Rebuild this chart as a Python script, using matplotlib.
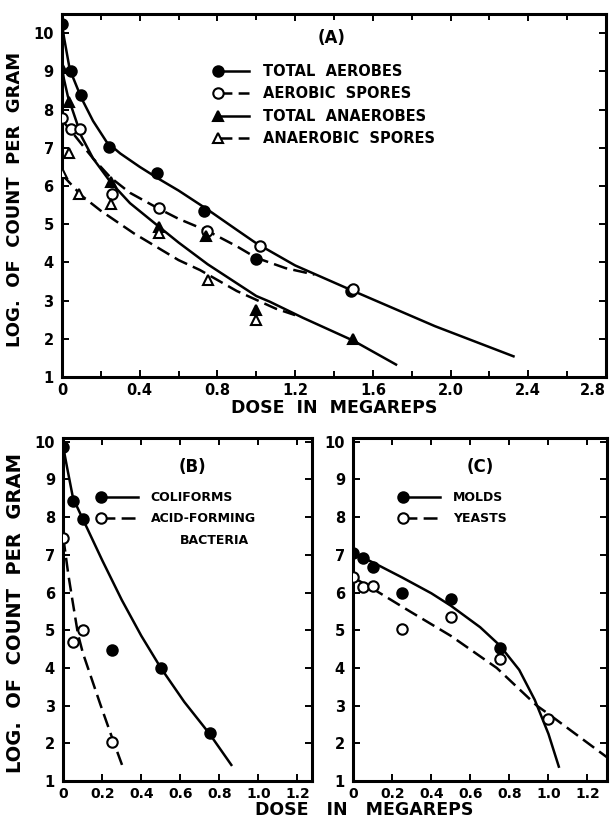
import numpy as np
import matplotlib
matplotlib.use("Agg")
import matplotlib.pyplot as plt
from matplotlib.lines import Line2D
from matplotlib.legend_handler import HandlerLine2D
from matplotlib.ticker import FixedLocator, FixedFormatter, MultipleLocator

plt.rcParams['font.family'] = ['DejaVu Sans']
plt.rcParams['font.weight'] = 'bold'
plt.rcParams['lines.scale_dashes'] = False

# ---- panel A : measured points ----
aer_dose = [0, 0.045, 0.1, 0.24, 0.49, 0.73, 1.0, 1.49]
aer_log = [10.25, 9.0, 8.38, 7.02, 6.35, 5.35, 4.08, 3.25]
aspo_dose = [0, 0.045, 0.093, 0.255, 0.5, 0.745, 1.02, 1.5]
aspo_log = [7.77, 7.5, 7.5, 5.8, 5.43, 4.82, 4.43, 3.3]
ana_dose = [0, 0.035, 0.25, 0.5, 0.74, 1.0, 1.5]
ana_log = [9.08, 8.2, 6.1, 4.93, 4.68, 2.75, 2.0]
nspo_dose = [0, 0.035, 0.09, 0.25, 0.5, 0.75, 1.0]
nspo_log = [6.33, 6.85, 5.8, 5.52, 4.78, 3.53, 2.5]

# ---- panel A : drawn curves ----
aer_cx = [0, 0.01, 0.04, 0.1, 0.16, 0.23, 0.3, 0.4, 0.5, 0.6, 0.75, 0.9, 1.0, 1.2, 1.5, 1.92, 2.33]
aer_cy = [10.25, 9.9, 9.05, 8.3, 7.7, 7.15, 6.85, 6.5, 6.18, 5.88, 5.38, 4.85, 4.5, 3.92, 3.25, 2.33, 1.53]
aspo_cx = [0, 0.02, 0.05, 0.1, 0.16, 0.25, 0.35, 0.5, 0.6, 0.75, 0.9, 1.0, 1.15, 1.3]
aspo_cy = [7.75, 7.6, 7.42, 7.1, 6.72, 6.22, 5.82, 5.4, 5.14, 4.82, 4.42, 4.12, 3.85, 3.68]
ana_cx = [0, 0.01, 0.03, 0.06, 0.1, 0.16, 0.25, 0.35, 0.5, 0.6, 0.75, 1.0, 1.07, 1.24, 1.5, 1.725]
ana_cy = [9.1, 8.8, 8.35, 7.9, 7.3, 6.72, 6.1, 5.55, 4.93, 4.52, 3.95, 3.12, 2.97, 2.55, 1.95, 1.31]
nspo_cx = [0, 0.1, 0.2, 0.37, 0.6, 0.71, 0.9, 1.1, 1.2]
nspo_cy = [6.3, 5.75, 5.35, 4.76, 4.06, 3.8, 3.25, 2.79, 2.62]

# ---- panel B ----
coli_dose = [0, 0.05, 0.1, 0.25, 0.5, 0.75]
coli_log = [9.85, 8.42, 7.95, 4.48, 4.0, 2.27]
acid_dose = [0, 0.05, 0.1, 0.25]
acid_log = [7.45, 4.7, 5.0, 2.03]
coli_cx = [0, 0.02, 0.05, 0.1, 0.2, 0.3, 0.4, 0.5, 0.62, 0.75, 0.865]
coli_cy = [9.85, 9.3, 8.5, 7.95, 6.85, 5.8, 4.85, 4.0, 3.1, 2.25, 1.4]
acid_cx = [0, 0.012, 0.025, 0.045, 0.075, 0.1, 0.19, 0.25, 0.31]
acid_cy = [7.45, 7.0, 6.5, 5.85, 4.9, 4.4, 3.03, 2.15, 1.3]

# ---- panel C ----
mold_dose = [0, 0.05, 0.1, 0.25, 0.5, 0.75]
mold_log = [7.05, 6.92, 6.68, 5.98, 5.84, 4.52]
yeast_dose = [0, 0.05, 0.1, 0.25, 0.5, 0.75, 1.0]
yeast_log = [6.4, 6.14, 6.18, 5.02, 5.36, 4.24, 2.65]
mold_cx = [0, 0.1, 0.25, 0.4, 0.5, 0.65, 0.75, 0.85, 0.93, 1.0, 1.055]
mold_cy = [7.05, 6.8, 6.4, 5.98, 5.65, 5.08, 4.6, 3.95, 3.15, 2.25, 1.35]
yeast_cx = [0, 0.1, 0.29, 0.5, 0.735, 0.94, 1.0, 1.3]
yeast_cy = [6.4, 6.1, 5.5, 4.85, 4.0, 3.0, 2.78, 1.63]

a_ticks = [0, 0.4, 0.8, 1.2, 1.6, 2.0, 2.4, 2.8]
a_ticklabels = ['0', '0.4', '0.8', '1.2', '1.6', '2.0', '2.4', '2.8']
bc_ticks = [0, 0.2, 0.4, 0.6, 0.8, 1.0, 1.2]
bc_ticklabels = ['0', '0.2', '0.4', '0.6', '0.8', '1.0', '1.2']
y_ticks = [1, 2, 3, 4, 5, 6, 7, 8, 9, 10]

LW = 1.8
DASH = (0, (10, 4.5))
MS = 7.5


class LeftMarker(HandlerLine2D):
    # marker only at the left end of the legend line
    def create_artists(self, *args, **kwargs):
        arts = super().create_artists(*args, **kwargs)
        for a in arts:
            a.set_markevery([0])
        return arts


fig = plt.figure(figsize=(6.1, 8.23), dpi=100)
axA = fig.add_axes([0.1016, 0.5419, 0.8918, 0.4411])
axB = fig.add_axes([0.1038, 0.0510, 0.4077, 0.4168])
axC = fig.add_axes([0.5792, 0.0510, 0.4159, 0.4168])


def style(ax, xlim, ylim, xt, xtl, xsize):
    ax.set_xlim(*xlim)
    ax.set_ylim(*ylim)
    ax.xaxis.set_major_locator(FixedLocator(xt))
    ax.xaxis.set_major_formatter(FixedFormatter(xtl))
    ax.set_yticks(y_ticks)
    ax.set_yticklabels([str(v) for v in y_ticks])
    for s in ax.spines.values():
        s.set_linewidth(2.2)
    ax.tick_params(which='both', direction='in', top=True, right=True, width=1.4)
    ax.tick_params(which='major', length=5, pad=4)
    ax.tick_params(which='minor', length=4)
    ax.tick_params(axis='x', labelsize=xsize)
    ax.tick_params(axis='y', labelsize=10.5, pad=6)


def curve(ax, x, y, dashed=False):
    ax.plot(x, y, color='k', lw=LW, linestyle=DASH if dashed else '-',
            zorder=2, solid_capstyle='butt')


def pts(ax, x, y, marker, filled):
    ax.plot(x, y, linestyle='none', marker=marker, ms=MS,
            mfc='k' if filled else 'white', mec='k', mew=1.5, zorder=3)


def handle(marker, filled, dashed):
    return Line2D([], [], color='k', lw=LW, linestyle=DASH if dashed else '-',
                  marker=marker, ms=MS, mfc='k' if filled else 'white',
                  mec='k', mew=1.5)


def legend(ax, handles, labels, anchor, size, hl, spacing):
    ax.legend(handles, labels, loc='upper left', bbox_to_anchor=anchor,
              frameon=False, handler_map={Line2D: LeftMarker(numpoints=2)},
              handlelength=hl, handletextpad=0.7, labelspacing=spacing,
              borderpad=0, borderaxespad=0, prop={'size': size, 'weight': 'bold'})


# ---------------- A ----------------
style(axA, (0, 2.8), (1, 10.5), a_ticks, a_ticklabels, 10.5)
axA.xaxis.set_minor_locator(MultipleLocator(0.2))
axA.get_xticklabels()[-1].set_horizontalalignment('right')
curve(axA, aer_cx, aer_cy)
curve(axA, aspo_cx, aspo_cy, dashed=True)
curve(axA, ana_cx, ana_cy)
curve(axA, nspo_cx, nspo_cy, dashed=True)
pts(axA, aer_dose, aer_log, 'o', True)
pts(axA, aspo_dose, aspo_log, 'o', False)
pts(axA, ana_dose, ana_log, '^', True)
pts(axA, nspo_dose, nspo_log, '^', False)
axA.text(0.496, 0.935, '(A)', transform=axA.transAxes, ha='center', va='center',
         fontsize=12, fontweight='bold')
legend(axA, [handle('o', True, False), handle('o', False, True),
             handle('^', True, False), handle('^', False, True)],
       ['TOTAL  AEROBES', 'AEROBIC  SPORES', 'TOTAL  ANAEROBES', 'ANAEROBIC  SPORES'],
       (0.279, 0.862), 10.5, 2.7, 0.5)
axA.set_xlabel('DOSE  IN  MEGAREPS', fontsize=12.5, fontweight='bold', labelpad=1)
axA.set_ylabel('LOG.  OF  COUNT  PER  GRAM', fontsize=13, fontweight='bold')
axA.yaxis.set_label_coords(-0.069, 0.49)

# ---------------- B ----------------
style(axB, (0, 1.275), (1, 10.1), bc_ticks, bc_ticklabels, 10)
curve(axB, coli_cx, coli_cy)
curve(axB, acid_cx, acid_cy, dashed=True)
pts(axB, coli_dose, coli_log, 'o', True)
pts(axB, acid_dose, acid_log, 'o', False)
axB.text(0.52, 0.915, '(B)', transform=axB.transAxes, ha='center', va='center',
         fontsize=12, fontweight='bold')
legend(axB, [handle('o', True, False), handle('o', False, True)],
       ['COLIFORMS', 'ACID-FORMING'], (0.135, 0.845), 9, 3.6, 0.65)
axB.text(0.47, 0.70, 'BACTERIA', transform=axB.transAxes, ha='left', va='center',
         fontsize=9, fontweight='bold')
axB.set_ylabel('LOG.  OF  COUNT  PER  GRAM', fontsize=14, fontweight='bold')
axB.yaxis.set_label_coords(-0.153, 0.49)

# ---------------- C ----------------
style(axC, (0, 1.3), (1, 10.1), bc_ticks, bc_ticklabels, 10)
curve(axC, mold_cx, mold_cy)
curve(axC, yeast_cx, yeast_cy, dashed=True)
pts(axC, mold_dose, mold_log, 'o', True)
pts(axC, yeast_dose, yeast_log, 'o', False)
axC.text(0.5, 0.915, '(C)', transform=axC.transAxes, ha='center', va='center',
         fontsize=12, fontweight='bold')
legend(axC, [handle('o', True, False), handle('o', False, True)],
       ['MOLDS', 'YEASTS'], (0.18, 0.845), 9, 3.6, 0.65)

fig.text(0.597, 0.016, 'DOSE   IN   MEGAREPS', ha='center', va='center',
         fontsize=12.5, fontweight='bold')

fig.savefig('out.png', dpi=100)
